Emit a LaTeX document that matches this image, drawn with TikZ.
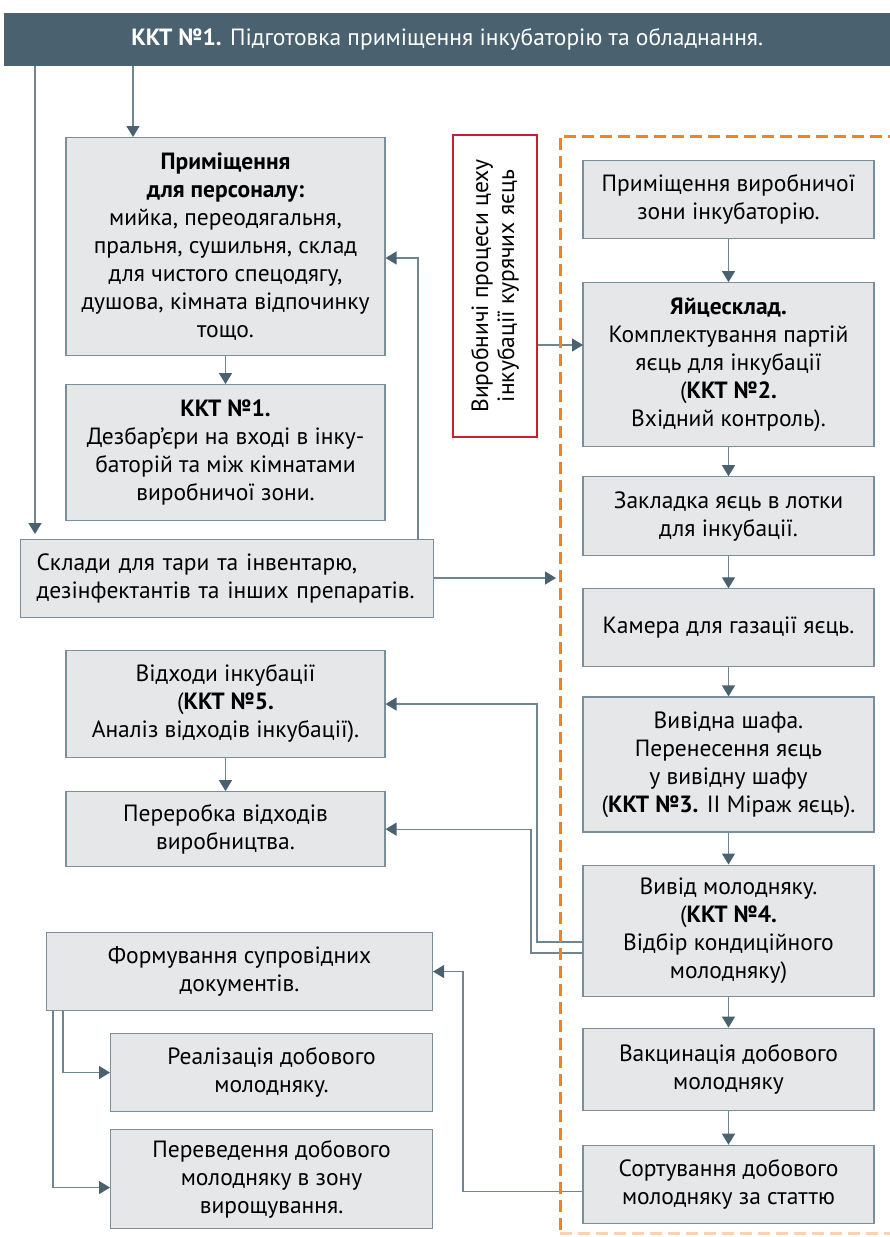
\documentclass[tikz,border=0pt]{standalone}
\usepackage{fontspec}
\setmainfont{PT Sans}
\usetikzlibrary{arrows.meta,positioning}
\definecolor{bannerc}{HTML}{4A6170}
\definecolor{boxfill}{HTML}{E6E7E8}
\definecolor{boxline}{HTML}{7A8F9B}
\definecolor{linec}{HTML}{6F8592}
\definecolor{tipc}{HTML}{4A6170}
\definecolor{redc}{HTML}{C8202F}
\definecolor{orangec}{HTML}{F58220}

\begin{document}
\begin{tikzpicture}[x=1pt, y=-1pt, font=\fontsize{23.5}{28}\selectfont, node distance=30pt, box/.style={draw=boxline, fill=boxfill, line width=1.1pt, align=center, inner sep=3pt, minimum width=319pt}, rbox/.style={box, minimum width=291pt}, arr/.style={-{Triangle[width=13pt,length=11pt,color=tipc]}, draw=linec, line width=1.3pt}]
\useasboundingbox (0,0) rectangle (890,1237);
\node[fill=bannerc, text=white, minimum width=886pt, minimum height=53pt, anchor=north west] (top) at (4,13) {\textbf{ККТ №1.} Підготовка приміщення інкубаторію та обладнання.};
% left column
\node[box, minimum height=218pt, anchor=north] (staff) at (225.5,137) {\textbf{Приміщення}\\\textbf{для персоналу:}\\мийка, переодягальня,\\пральня, сушильня, склад\\для чистого спецодягу,\\душова, кімната відпочинку\\тощо.};
\node[box, minimum height=136pt, below=28pt of staff] (barrier) {\textbf{ККТ №1.}\\Дезбар’єри на вході в інку-\\баторій та між кімнатами\\виробничої зони.};
\node[box, minimum width=413pt, minimum height=78pt, text width=381pt, inner xsep=16pt, align=left, anchor=north west] (store) at (20,539) {Склади для тари та інвентарю,\\дезінфектантів та інших препаратів.};
\node[box, minimum height=107pt, anchor=north] (waste) at (225.5,650) {Відходи інкубації\\(\textbf{ККТ №5.}\\Аналіз відходів інкубації).};
\node[box, minimum height=75pt, below=33pt of waste] (recycle) {Переробка відходів\\виробництва.};
\node[box, minimum width=386pt, minimum height=78pt, anchor=north west] (docs) at (46,932) {Формування супровідних\\документів.};
\node[box, minimum width=322pt, minimum height=78pt, anchor=north west] (sale) at (110,1033) {Реалізація добового\\молодняку.};
\node[box, minimum width=322pt, minimum height=99pt, anchor=north west] (transfer) at (110,1129) {Переведення добового\\молодняку в зону\\вирощування.};
% label
\node[draw=redc, line width=2pt, fill=white, minimum width=302pt, minimum height=84pt, rotate=90, align=center, inner sep=2pt, font=\fontsize{23.5}{26}\selectfont] (label) at (495,286) {Виробничі процеси цеху\\інкубації курячих яєць};
% right column
\node[rbox, minimum height=78pt, anchor=north] (zone) at (728.5,160) {Приміщення виробничої\\зони інкубаторію.};
\node[rbox, minimum height=164pt, below=43pt of zone] (eggs) {\textbf{Яйцесклад.}\\Комплектування партій\\яєць для інкубації\\(\textbf{ККТ №2.}\\Вхідний контроль).};
\node[rbox, minimum height=79pt, below=29pt of eggs] (trays) {Закладка яєць в лотки\\для інкубації.};
\node[rbox, minimum height=78pt, below=32pt of trays] (gas) {Камера для газації яєць.};
\node[rbox, minimum height=135pt, below=29pt of gas] (hatcher) {Вивідна шафа.\\Перенесення яєць\\у вивідну шафу\\(\textbf{ККТ №3.} ІІ Міраж яєць).};
\node[rbox, minimum height=131pt, below=32pt of hatcher] (chicks) {Вивід молодняку.\\(\textbf{ККТ №4.}\\Відбір кондиційного\\молодняку)};
\node[rbox, minimum height=82pt, below=31pt of chicks] (vacc) {Вакцинація добового\\молодняку};
\node[rbox, minimum height=78pt, below=34pt of vacc] (sort) {Сортування добового\\молодняку за статтю};
% turning points
\coordinate (dropA) at (133,0); \coordinate (dropB) at (35,0);
\coordinate (riseX) at (418,258); \coordinate (zoneIn) at (556,578); \coordinate (eggIn) at (583,345);
\coordinate (bendA) at (537,0); \coordinate (bendB) at (531,0); \coordinate (bendC) at (463,0);
\coordinate (legA) at (63,0); \coordinate (legB) at (53,0);
% connectors
\draw[arr] (top.south -| dropA) -- (staff.north -| dropA); \draw[arr, shorten >=5pt] (top.south -| dropB) -- (store.north -| dropB);
\draw[arr] (staff) -- (barrier); \draw[arr] (store.north -| riseX) -- (riseX) -- (staff.east |- riseX); \draw[arr] (store.east |- zoneIn) -- (zoneIn);
\draw[arr] (label.south |- eggIn) -- (eggIn);
\draw[arr] (zone) -- (eggs); \draw[arr] (eggs) -- (trays); \draw[arr] (trays) -- (gas); \draw[arr] (gas) -- (hatcher); \draw[arr] (hatcher) -- (chicks); \draw[arr] (chicks) -- (vacc); \draw[arr] (vacc) -- (sort);
\draw[arr] (waste) -- (recycle);
\draw[arr] ([yshift=-11.5pt]chicks.west) -| (bendA |- waste.east) -- (waste.east);
\draw[arr] ([yshift=-22.5pt]chicks.west) -| (bendB |- recycle.east) -- (recycle.east);
\draw[arr] ([yshift=-7pt]sort.west) -| (bendC |- docs.east) -- (docs.east);
\draw[arr] (docs.south -| legA) |- (sale.west); \draw[arr] (docs.south -| legB) |- ([yshift=-8.5pt]transfer.west);
% dashed zone
\draw[orangec, line width=3pt, dash pattern=on 12pt off 6pt] (900,136) -- (560,136) -- (560,1233);
\draw[orangec!35, line width=3pt, dash pattern=on 12pt off 6pt] (560,1233) -- (900,1233);
\end{tikzpicture}
\end{document}
